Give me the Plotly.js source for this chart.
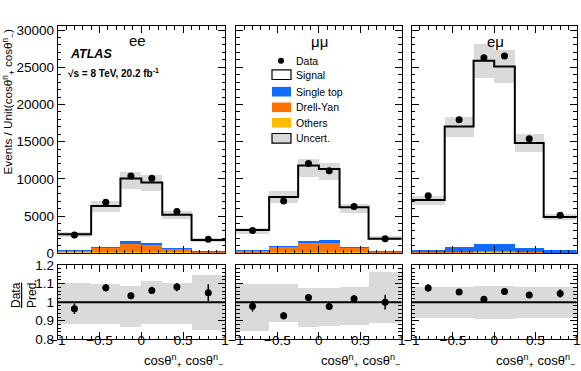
<!DOCTYPE html>
<html>
<head>
<meta charset="utf-8">
<script src="https://cdn.plot.ly/plotly-3.0.1.min.js"></script>
<style>body{margin:0;background:#fff}</style>
</head>
<body>
<div id="plot" style="width:581px;height:371px"></div>
<script>
// bin edges in cos(theta+n) cos(theta-n)
var binEdges = [-1, -0.6, -0.25, 0, 0.25, 0.6, 1];
var channelNames = ['ee', 'μμ', 'eμ'];

// events per unit
var signalEE = [2130, 5460, 8420, 8150, 4450, 1500];
var singleTopEE = [60, 170, 400, 300, 190, 60];
var drellYanEE = [250, 590, 1050, 890, 420, 120];
var othersEE = [100, 130, 160, 150, 120, 90];
var dataEE = [2450, 6840, 10370, 10090, 5600, 1860];

var signalMM = [2630, 6540, 10090, 9510, 5290, 1690];
var singleTopMM = [180, 220, 310, 440, 130, 60];
var drellYanMM = [220, 680, 1230, 1230, 650, 120];
var othersMM = [90, 120, 150, 150, 110, 80];
var dataMM = [3050, 7010, 12070, 11070, 6290, 1950];

var signalEM = [6670, 16230, 24580, 23810, 14120, 4380];
var singleTopEM = [390, 630, 970, 990, 560, 410];
var drellYanEM = [40, 80, 200, 190, 70, 30];
var othersEM = [60, 90, 120, 110, 80, 50];
var dataEM = [7710, 17960, 26280, 26530, 15400, 5100];

// relative uncertainty of the prediction (up / down)
var uncUpEE = [0.104, 0.098, 0.088, 0.113, 0.104, 0.145];
var uncDnEE = [0.118, 0.118, 0.136, 0.12, 0.12, 0.15];
var uncUpMM = [0.098, 0.098, 0.077, 0.074, 0.081, 0.165];
var uncDnMM = [0.153, 0.108, 0.133, 0.127, 0.125, 0.113];
var uncUpEM = [0.079, 0.079, 0.088, 0.088, 0.079, 0.079];
var uncDnEM = [0.086, 0.086, 0.09, 0.09, 0.086, 0.086];

// statistical error on data/pred
var errEE = [0.028, 0.02, 0.018, 0.02, 0.022, 0.045];
var errMM = [0.028, 0.02, 0.018, 0.018, 0.02, 0.04];
var errEM = [0.02, 0.012, 0.01, 0.01, 0.012, 0.022];

var mainTicks = [0, 5000, 10000, 15000, 20000, 25000, 30000];
var ratioTicks = [0.8, 0.9, 1, 1.1, 1.2];

var colors = {
  singleTop: '#0f6cff',
  drellYan: '#ff7300',
  others: '#ffbc00',
  band: '#dadada'
};

var channels = [
  {sig: signalEE, st: singleTopEE, dy: drellYanEE, oth: othersEE, data: dataEE, up: uncUpEE, dn: uncDnEE, err: errEE},
  {sig: signalMM, st: singleTopMM, dy: drellYanMM, oth: othersMM, data: dataMM, up: uncUpMM, dn: uncDnMM, err: errMM},
  {sig: signalEM, st: singleTopEM, dy: drellYanEM, oth: othersEM, data: dataEM, up: uncUpEM, dn: uncDnEM, err: errEM}
];

var W = 581, H = 371;
function px(x) { return x / W; }
function py(y) { return 1 - y / H; }

var FONT = 'Liberation Sans, Arial, sans-serif';
var centers = [], widths = [];
for (var b = 0; b < binEdges.length - 1; b++) {
  centers.push((binEdges[b] + binEdges[b + 1]) / 2);
  widths.push(binEdges[b + 1] - binEdges[b]);
}

function bar(xa, ya, y, color, base) {
  var t = {type: 'bar', x: centers, y: y, width: widths, xaxis: xa, yaxis: ya,
    marker: {color: color, line: {width: 0}, opacity: 1}, hoverinfo: 'skip', showlegend: false};
  if (base) t.base = base;
  return t;
}

var data = [];
channels.forEach(function (c, i) {
  var xm = 'x' + (i === 0 ? '' : i + 1), ym = 'y' + (i === 0 ? '' : i + 1);
  var xr = 'x' + (i + 4), yr = 'y' + (i + 4);
  var c1 = c.oth.map(function (v, k) { return v + c.dy[k]; });
  var c2 = c1.map(function (v, k) { return v + c.st[k]; });
  var pred = c2.map(function (v, k) { return v + c.sig[k]; });

  data.push(bar(xm, ym, pred, '#ffffff'));
  data.push(bar(xm, ym, c2, colors.singleTop));
  data.push(bar(xm, ym, c1, colors.drellYan));
  data.push(bar(xm, ym, c.oth, colors.others));
  data.push(bar(xm, ym,
    pred.map(function (v, k) { return v * (c.up[k] + c.dn[k]); }), colors.band,
    pred.map(function (v, k) { return v * (1 - c.dn[k]); })));
  data.push({type: 'scatter', mode: 'lines', x: binEdges, y: pred.concat([pred[pred.length - 1]]),
    line: {shape: 'hv', color: '#000', width: 2}, xaxis: xm, yaxis: ym, hoverinfo: 'skip', showlegend: false});
  data.push({type: 'scatter', mode: 'markers', x: centers, y: c.data,
    error_y: {type: 'data', array: pred.map(function (v, k) { return v * c.err[k]; }), color: '#000', thickness: 1.5, width: 0},
    marker: {color: '#000', size: 7}, xaxis: xm, yaxis: ym, hoverinfo: 'skip', showlegend: false});

  // ratio panel
  data.push(bar(xr, yr, c.up.map(function (v, k) { return v + c.dn[k]; }), colors.band,
    c.dn.map(function (v) { return 1 - v; })));
  data.push({type: 'scatter', mode: 'lines', x: [binEdges[0], binEdges[binEdges.length - 1]], y: [1, 1],
    line: {color: '#000', width: 2}, xaxis: xr, yaxis: yr, hoverinfo: 'skip', showlegend: false});
  data.push({type: 'scatter', mode: 'markers', x: centers, y: c.data.map(function (v, k) { return v / pred[k]; }),
    error_y: {type: 'data', array: c.err, color: '#000', thickness: 1.5, width: 0},
    marker: {color: '#000', size: 7}, xaxis: xr, yaxis: yr, hoverinfo: 'skip', showlegend: false});
});

var xDom = [[57.7, 225], [236, 401.7], [411.7, 576.7]];
var mainY = [26, 253.2], ratioY = [265, 339.3];

function xAxis(i, labels, anchor) {
  return {domain: [px(xDom[i][0]), px(xDom[i][1])], range: [-1, 1], anchor: anchor,
    showline: true, linecolor: '#000', linewidth: 1, mirror: 'allticks',
    ticks: 'inside', ticklen: 7, tickcolor: '#000', tick0: -1, dtick: 0.5,
    minor: {ticks: 'inside', ticklen: 3.5, dtick: 0.1, tickcolor: '#000', showgrid: false},
    showgrid: false, zeroline: false, showticklabels: labels, ticklabelstandoff: -12,
    tickfont: {family: FONT, size: 13.5, color: '#000'}, fixedrange: true};
}
function yAxis(dom, range, tv, minorDt, labels, anchor, fmt) {
  return {domain: [py(dom[1]), py(dom[0])], range: range, anchor: anchor,
    showline: true, linecolor: '#000', linewidth: 1, mirror: 'allticks',
    ticks: 'inside', ticklen: 7, tickcolor: '#000', tickvals: tv, tickformat: fmt,
    minor: {ticks: 'inside', ticklen: 3.5, dtick: minorDt, tickcolor: '#000', showgrid: false},
    showgrid: false, zeroline: false, showticklabels: labels,
    tickfont: {family: FONT, size: 13.5, color: '#000'}, fixedrange: true};
}

var layout = {
  width: W, height: H, margin: {l: 0, r: 0, t: 0, b: 0},
  paper_bgcolor: '#fff', plot_bgcolor: 'rgba(0,0,0,0)',
  barmode: 'overlay', bargap: 0, showlegend: false,
  font: {family: FONT, color: '#000'},
  xaxis: xAxis(0, false, 'y'), xaxis2: xAxis(1, false, 'y2'), xaxis3: xAxis(2, false, 'y3'),
  xaxis4: xAxis(0, true, 'y4'), xaxis5: xAxis(1, true, 'y5'), xaxis6: xAxis(2, true, 'y6'),
  yaxis: yAxis(mainY, [0, 30550], mainTicks, 1000, true, 'x', 'd'),
  yaxis2: yAxis(mainY, [0, 30550], mainTicks, 1000, false, 'x2', 'd'),
  yaxis3: yAxis(mainY, [0, 30550], mainTicks, 1000, false, 'x3', 'd'),
  yaxis4: yAxis(ratioY, [0.8, 1.2], ratioTicks, 0.02, true, 'x4', ''),
  yaxis5: yAxis(ratioY, [0.8, 1.2], ratioTicks, 0.02, false, 'x5', ''),
  yaxis6: yAxis(ratioY, [0.8, 1.2], ratioTicks, 0.02, false, 'x6', ''),
  shapes: [], annotations: []
};

function note(text, x, y, size, xanchor, extra) {
  var a = {text: text, x: px(x), y: py(y), xref: 'paper', yref: 'paper', showarrow: false,
    xanchor: xanchor || 'center', yanchor: 'middle', font: {family: FONT, size: size, color: '#000'}};
  for (var k in extra) a[k] = extra[k];
  layout.annotations.push(a);
}

var xTitle = 'cosθ<sup>n</sup><sub>+</sub> cosθ<sup>n</sup><sub>−</sub>';
note(channelNames[0], 137, 40, 15);
note(channelNames[1], 320, 41, 15);
note(channelNames[2], 495, 41, 15);
xDom.forEach(function (d) { note(xTitle, d[1], 361, 13, 'right'); });
note('<b><i>ATLAS</i></b>', 68, 54, 12.5, 'left');
note('<b>√s = 8 TeV, 20.2 fb<sup>-1</sup></b>', 66, 73, 10, 'left');
note('Events / Unit(' + xTitle + ')', 8, 28, 11.7, 'center', {textangle: -90, yanchor: 'top'});
note('<u>Data</u><br>Pred.', 24, 294, 12, 'center', {textangle: -90, align: 'left'});

// legend drawn inside the mumu panel
var legendRows = [
  {label: 'Data', y: 60.7},
  {label: 'Signal', y: 74.7, fill: '#fff', line: '#000'},
  {label: 'Single top', y: 91.7, fill: colors.singleTop},
  {label: 'Drell-Yan', y: 107.3, fill: colors.drellYan},
  {label: 'Others', y: 122.7, fill: colors.others},
  {label: 'Uncert.', y: 138.3, fill: colors.band, line: '#000'}
];
legendRows.forEach(function (r, k) {
  if (k === 0) {
    layout.shapes.push({type: 'circle', xref: 'paper', yref: 'paper', x0: px(278), x1: px(284),
      y0: py(63.7), y1: py(57.7), fillcolor: '#000', line: {width: 0}});
  } else {
    layout.shapes.push({type: 'rect', xref: 'paper', yref: 'paper', x0: px(272), x1: px(291),
      y0: py(r.y + 4.8), y1: py(r.y - 4.8), fillcolor: r.fill,
      line: r.line ? {color: r.line, width: 1.2} : {width: 0}});
  }
  note(r.label, 294, r.y, 10.5, 'left');
});

Plotly.newPlot('plot', data, layout, {staticPlot: true});
</script>
</body>
</html>
